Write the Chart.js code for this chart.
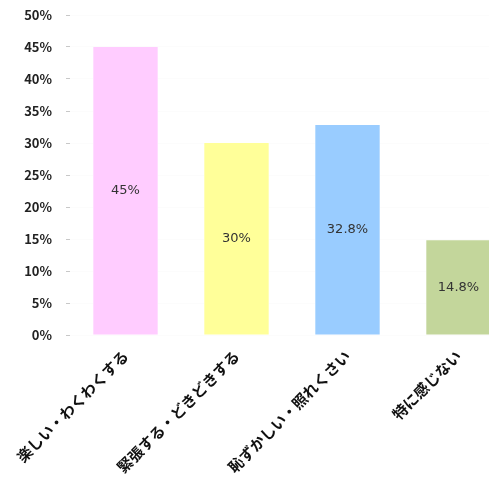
<!DOCTYPE html>
<html>
<head>
<meta charset="utf-8">
<script src="https://cdn.jsdelivr.net/npm/chart.js@4"></script>
<style>
  html, body { margin: 0; padding: 0; background: #fff; overflow: hidden; }
  #wrap { width: 514px; height: 488px; position: relative; }
</style>
</head>
<body>
<div id="wrap"><canvas id="chart"></canvas></div>
<script>
var categories = ["楽しい・わくわくする", "緊張する・どきどきする", "恥ずかしい・照れくさい", "特に感じない"];
var values = [45, 30, 32.8, 14.8];
var barColors = ["#FFCCFF", "#FFFF99", "#99CCFF", "#C3D69B"];
var yTicks = [0, 5, 10, 15, 20, 25, 30, 35, 40, 45, 50];

// writes the value in the middle of each bar
var midLabels = {
  id: "midLabels",
  afterDatasetsDraw: function (chart) {
    var ctx = chart.ctx;
    var meta = chart.getDatasetMeta(0);
    ctx.save();
    ctx.font = "13px 'DejaVu Sans', sans-serif";
    ctx.fillStyle = "#333";
    ctx.textAlign = "center";
    ctx.textBaseline = "middle";
    meta.data.forEach(function (bar, i) {
      ctx.fillText(values[i] + "%", bar.x, (bar.y + bar.base) / 2);
    });
    ctx.restore();
  },
};

var ctx = document.getElementById("chart").getContext("2d");
var chart = new Chart(ctx, {
  type: "bar",
  data: {
    labels: categories,
    datasets: [
      {
        data: values,
        backgroundColor: barColors,
        borderWidth: 0,
        barPercentage: 0.58,
        categoryPercentage: 1,
      },
    ],
  },
  options: {
    responsive: true,
    maintainAspectRatio: false,
    animation: false,
    layout: { padding: { top: 15, right: 0, left: 0, bottom: 0 } },
    plugins: { legend: { display: false }, tooltip: { enabled: false } },
    scales: {
      x: {
        grid: { display: false },
        border: { display: false },
        ticks: {
          color: "#111",
          font: { family: "'Noto Sans CJK JP'", size: 15, weight: "bold" },
          minRotation: 45,
          maxRotation: 45,
          padding: 4,
        },
        afterFit: function (scale) {
          scale.height = 488 - 335;
          scale.paddingTop = 0;
        },
      },
      y: {
        min: 0,
        max: 50,
        afterBuildTicks: function (scale) {
          scale.ticks = yTicks.map(function (v) {
            return { value: v };
          });
        },
        grid: {
          color: "rgba(0,0,0,0.012)",
          tickColor: "#c8c8c8",
          tickLength: 4,
        },
        border: { display: false },
        ticks: {
          color: "#222",
          font: { family: "'Noto Sans CJK JP'", size: 13, weight: "bold" },
          padding: 14,
          callback: function (v) {
            return v + "%";
          },
        },
        afterFit: function (scale) {
          scale.width = 70;
          scale.paddingTop = 0;
          scale.paddingBottom = 0;
        },
      },
    },
  },
  plugins: [midLabels],
});
</script>
</body>
</html>
